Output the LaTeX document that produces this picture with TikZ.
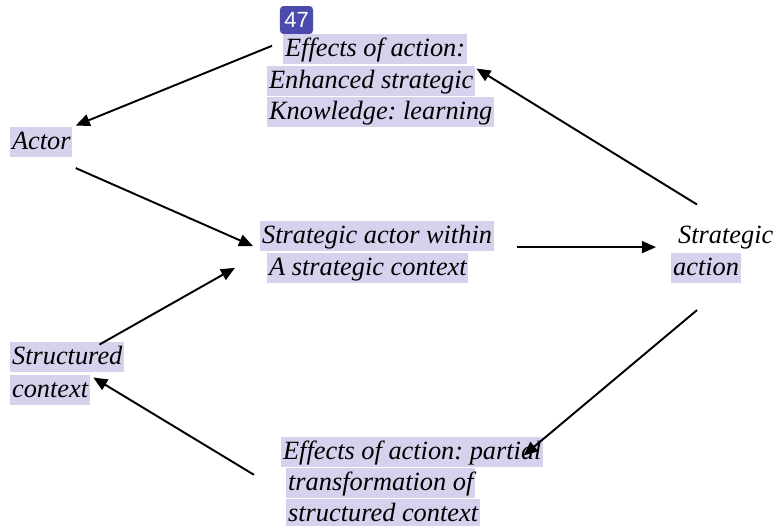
\documentclass[tikz,border=0pt]{standalone}
\usepackage{fontspec}
\setmainfont{Liberation Serif}
\newfontfamily\badgefont{Liberation Sans}
\usetikzlibrary{arrows.meta}
\frenchspacing

\definecolor{hilite}{RGB}{212,210,236}
\definecolor{badgeblue}{RGB}{75,75,175}

\tikzset{
  textline/.style={anchor=base west, fill=hilite, inner xsep=1pt, inner ysep=0.8pt,
    text height=11.8pt, text depth=3.6pt, font=\fontsize{15}{18}\selectfont\itshape},
  plainline/.style={textline, fill=none},
  conn/.style={line width=1.1pt, -{Triangle[length=8pt,width=6.8pt]}}
}

\begin{document}
\begin{tikzpicture}[x=0.02cm, y=-0.02cm]

    % Page frame (pixel grid, y downwards)
    \clip (0,0) rectangle (776,525);

    % Slide number badge
    \node[fill=badgeblue, rounded corners=2pt, minimum width=18.8pt, minimum height=15.9pt,
          inner sep=0pt, text=white, font=\badgefont\fontsize{12.5}{14}\selectfont] (badge) at (296.5,20) {47};

    % Effects of action (top)
    \node[textline] (eff1) at (283,56) {Effects of action:};
    \node[textline] (eff2) at (267,88) {Enhanced strategic};
    \node[textline] (eff3) at (267,119) {Knowledge: learning};

    % Actor
    \node[textline] (actor) at (10,149) {Actor};

    % Strategic actor within a strategic context
    \node[textline] (sac1) at (260,243) {Strategic actor within};
    \node[textline] (sac2) at (267,275) {A strategic context};

    % Strategic action
    \node[plainline] (act1) at (676,243) {Strategic};
    \node[textline] (act2) at (671,275) {action};

    % Structured context
    \node[textline] (str1) at (10,364) {Structured};
    \node[textline] (str2) at (10,397) {context};

    % Effects of action (bottom)
    \node[textline] (part1) at (281,459) {Effects of action: partial};
    \node[textline] (part2) at (286,490) {transformation of};
    \node[textline] (part3) at (286,521) {structured context};

    % The cycle of arrows
    \draw[conn] ([shift={(-11,-3)}]eff1.west) -- ([shift={(3,-1)}]actor.north east);
    \draw[conn] ([shift={(3,11)}]actor.south east) -- ([shift={(-7,-5)}]sac1.south west);
    \draw[conn] ([shift={(23,-4)}]sac1.south east) -- ([shift={(-20,-4)}]act1.south west);
    \draw[conn] ([shift={(21,-16)}]act1.north west) -- ([shift={(1,3)}]eff2.north east);
    \draw[conn] ([shift={(26,27)}]act2.south west) -- ([shift={(-20,19)}]part1.north east);
    \draw[conn] ([shift={(-32,-8)}]part2.west) -- ([shift={(3,3)}]str2.north east);
    \draw[conn] ([shift={(-25,3)}]str1.north east) -- ([shift={(-32,0)}]sac2.west);

\end{tikzpicture}
\end{document}
